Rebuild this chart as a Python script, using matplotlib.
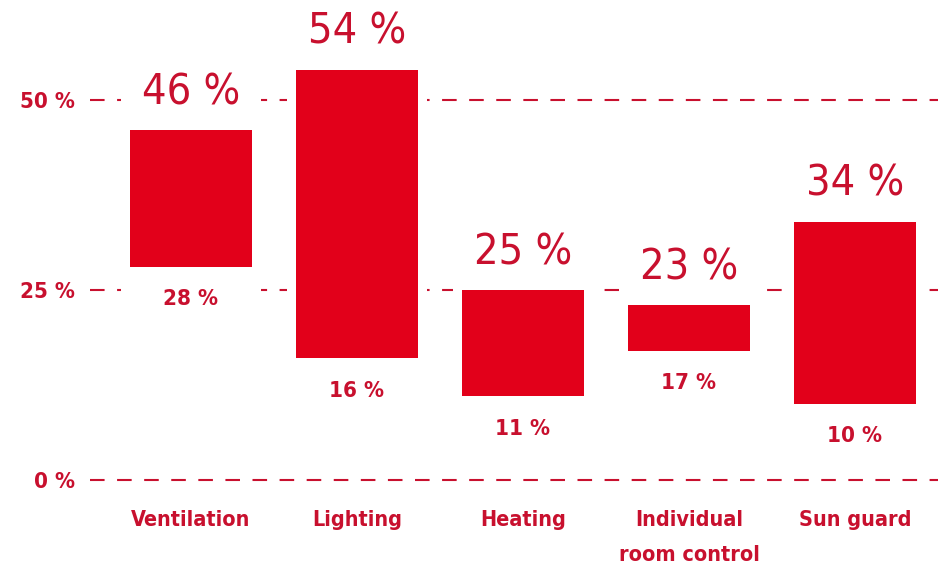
import matplotlib.pyplot as plt
from matplotlib.patches import Rectangle

# Dados (faixa min-max por categoria, em %)
categorias = ["Ventilation", "Lighting", "Heating", "Individual\nroom control", "Sun guard"]
valor_min = [28, 16, 11, 17, 10]
valor_max = [46, 54, 25, 23, 34]
ticks_y = [0, 25, 50]
ticks_rotulos = ["0 %", "25 %", "50 %"]

# Cores
COR_BARRA = "#e2001a"
COR_TEXTO = "#c8102e"

plt.rcParams["font.family"] = ["DejaVu Sans"]
plt.rcParams["font.stretch"] = "condensed"

fig = plt.figure(figsize=(9.38, 5.71), dpi=100)
ax = fig.add_axes([90 / 938, 0, 848 / 938, 1])
ax.set_xlim(-0.608, 4.5)
ax.set_ylim(-11.97, 63.16)

# linhas de grade tracejadas
for t in ticks_y:
    ax.axhline(t, color=COR_TEXTO, lw=1.5, ls=(0, (7, 6)), zorder=1)

x = range(len(categorias))
for i in x:
    lo, hi = valor_min[i], valor_max[i]
    # fundo branco por coluna, esconde a grade atras dos rotulos
    ax.add_patch(Rectangle((i - 0.42, lo - 6), 0.84, hi - lo + 16,
                           facecolor="white", edgecolor="none", zorder=2))
    ax.bar(i, hi - lo, bottom=lo, width=0.73, color=COR_BARRA, zorder=3)
    ax.annotate(f"{hi} %", (i, hi), xytext=(0, 12), textcoords="offset points",
                ha="center", va="bottom", fontsize=31, color=COR_TEXTO, zorder=4)
    ax.annotate(f"{lo} %", (i, lo), xytext=(0, -16), textcoords="offset points",
                ha="center", va="top", fontsize=16, fontweight="bold",
                color=COR_TEXTO, zorder=4)
    ax.text(i, -3.9, categorias[i], ha="center", va="top", fontsize=15.5,
            fontweight="bold", color=COR_TEXTO, linespacing=1.95)

ax.set_yticks(ticks_y)
ax.set_yticklabels(ticks_rotulos, fontsize=16, fontweight="bold", color=COR_TEXTO)
ax.tick_params(axis="y", length=0, pad=11)
ax.set_xticks([])
for s in ax.spines.values():
    s.set_visible(False)

plt.savefig("out.png", dpi=100)
